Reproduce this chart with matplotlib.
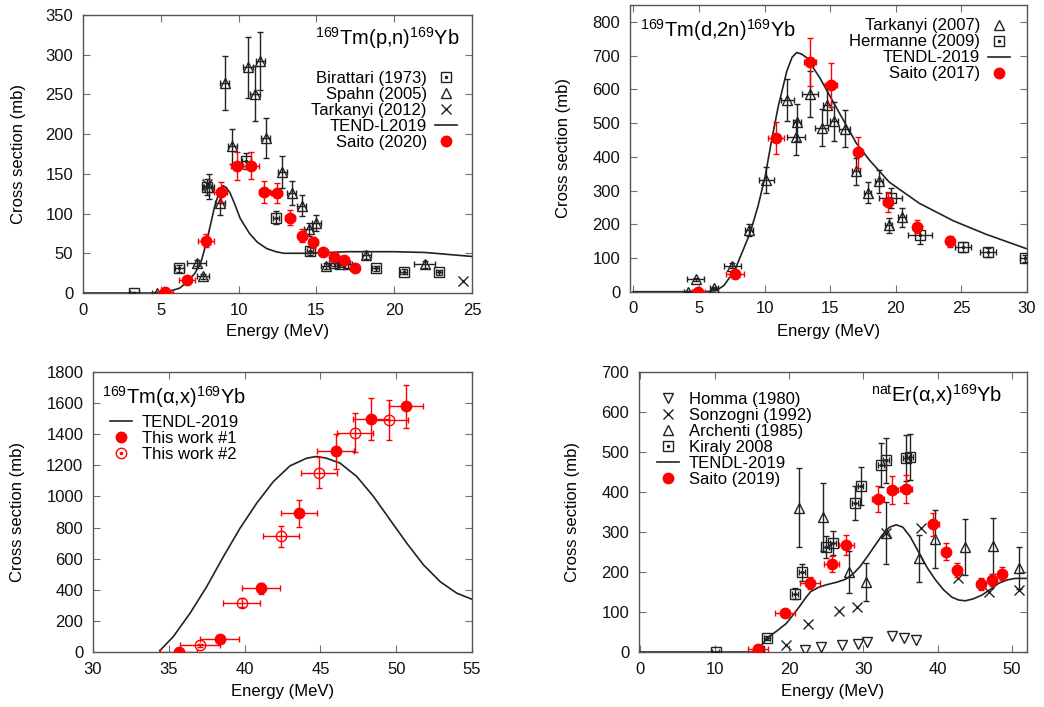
import numpy as np
import matplotlib
matplotlib.use("Agg")
import matplotlib.pyplot as plt
from matplotlib.lines import Line2D

plt.rcParams['font.family'] = ['Liberation Sans', 'DejaVu Sans']
plt.rcParams['mathtext.fontset'] = 'custom'
plt.rcParams['mathtext.rm'] = 'Liberation Sans'
plt.rcParams['mathtext.default'] = 'regular'

# ---- panel 1: 169Tm(p,n)169Yb ----
p_bir_e = [3.3, 6.2, 8.0, 10.5, 12.4, 14.6, 16.5, 18.8, 20.6, 22.9]
p_bir_s = [0, 31, 133, 166, 95, 53, 36, 31, 27, 26]
p_bir_ye = [1, 4, 10, 10, 8, 5, 3, 3, 3, 3]
p_bir_xe = [0.3, 0.3, 0.3, 0.3, 0.2, 0.2, 0.2, 0.2, 0.2, 0.2]

p_spa_e = [4.75, 7.3, 7.7, 8.1, 8.8, 9.1, 9.6, 10.6, 11.05, 11.4, 11.75, 12.8, 13.4,
           14.05, 14.5, 15.0, 15.6, 16.1, 17.0, 18.2, 21.95]
p_spa_s = [0, 38, 21, 134, 113, 264, 185, 284, 251, 292, 195, 152, 126,
           110, 80, 88, 34, 38, 36, 48, 36]
p_spa_ye = [1, 4, 3, 16, 15, 34, 22, 38, 35, 37, 25, 20, 15, 13, 8, 10, 4, 4, 4, 5, 4]
p_spa_xe = [0.3, 0.6, 0.4, 0.3, 0.3, 0.3, 0.3, 0.3, 0.3, 0.3, 0.3, 0.3, 0.3,
            0.3, 0.3, 0.3, 0.3, 0.3, 0.3, 0.3, 0.7]

p_tar_e = [8.0, 16.6, 24.4]
p_tar_s = [137, 37, 15]

p_sai_e = [5.3, 6.7, 7.9, 8.85, 9.9, 10.8, 11.65, 12.45, 13.3, 14.1, 14.8, 15.45, 16.15, 16.8, 17.45]
p_sai_s = [1, 16, 66, 127, 160, 160, 127, 126, 95, 72, 64, 51, 45, 42, 31]
p_sai_ye = [0.5, 2, 8, 13, 18, 17, 14, 13, 10, 8, 7, 5, 4.5, 4, 3]
p_sai_xe = [0.5, 0.5, 0.5, 0.4, 0.4, 0.5, 0.35, 0.35, 0.3, 0.3, 0.3, 0.3, 0.3, 0.3, 0.3]

p_ten_e = [0, 3, 4.5, 5.5, 6.2, 6.7, 7.2, 7.6, 7.95, 8.45, 8.75, 9.0, 9.2, 9.45, 9.75,
           10.1, 10.7, 11.2, 11.8, 12.4, 12.9, 14.6, 17, 20, 22, 25]
p_ten_s = [0, 0, 0, 2, 6, 14, 25, 40, 65, 108, 127, 135, 133, 126, 112,
           94, 75, 64, 56, 52, 50, 50, 52, 52, 51, 46]

# ---- panel 2: 169Tm(d,2n)169Yb ----
d_tar_e = [4.2, 4.75, 6.15, 7.55, 8.85, 10.15, 11.75, 12.4, 12.45, 13.45, 14.35, 14.75,
           15.3, 16.1, 17.0, 17.85, 18.7, 19.45, 20.5]
d_tar_s = [0, 37, 10, 77, 183, 332, 568, 458, 502, 585, 486, 555, 505, 483, 357, 294, 327, 197, 221]
d_tar_ye = [2, 5, 3, 8, 17, 38, 62, 52, 55, 68, 55, 62, 58, 55, 40, 30, 35, 22, 28]
d_tar_xe = [0.3, 0.65, 0.3, 0.65, 0.3, 0.55, 0.5, 0.7, 0.3, 0.6, 0.5, 0.3, 0.3, 0.4,
            0.3, 0.3, 0.3, 0.3, 0.3]

d_her_e = [19.6, 21.85, 25.1, 27.0, 29.85]
d_her_s = [278, 168, 132, 117, 99]
d_her_ye = [30, 28, 15, 14, 10]
d_her_xe = [0.9, 0.9, 0.6, 0.6, 0.4]

d_sai_e = [4.95, 7.75, 10.85, 13.45, 15.05, 17.15, 19.4, 21.6, 24.1]
d_sai_s = [0, 52, 455, 681, 614, 413, 265, 193, 149]
d_sai_ye = [2, 6, 47, 70, 65, 45, 30, 20, 15]
d_sai_xe = [0.5, 0.7, 0.6, 0.45, 0.45, 0.35, 0.35, 0.3, 0.3]

d_ten_e = [0, 5.5, 6.3, 6.9, 7.75, 8.9, 9.5, 10.05, 10.55, 11.05, 11.7, 12.1, 12.45,
           12.8, 13.2, 14.2, 15.7, 17.0, 18.0, 19.5, 21.8, 24.4, 26.9, 30.0]
d_ten_s = [0, 0, 3, 18, 65, 174, 253, 342, 451, 550, 654, 695, 709,
           705, 694, 635, 530, 440, 390, 325, 262, 210, 170, 127]

# ---- panel 3: 169Tm(alpha,x)169Yb ----
a_w1_e = [35.65, 38.35, 41.1, 43.6, 46.0, 48.35, 50.65]
a_w1_s = [0, 82, 410, 891, 1289, 1499, 1579]
a_w1_xe = [1.2, 1.3, 1.25, 1.2, 1.2, 1.2, 1.1]
a_w1_ye = [5, 15, 35, 85, 115, 135, 140]

a_w2_e = [37.05, 39.8, 42.4, 44.9, 47.3, 49.55]
a_w2_s = [43, 316, 745, 1153, 1411, 1493]
a_w2_xe = [1.3, 1.2, 1.2, 1.2, 1.2, 1.2]
a_w2_ye = [8, 28, 68, 100, 125, 130]

a_ten_e = [34.4, 35.3, 36.4, 37.5, 38.6, 39.7, 40.8, 41.9, 43.0, 44.1, 44.75, 45.4,
           46.3, 47.4, 48.5, 49.6, 50.7, 51.8, 52.9, 54.0, 55.0]
a_ten_s = [8, 99, 249, 420, 613, 796, 957, 1096, 1197, 1246, 1257, 1246,
           1214, 1128, 1000, 849, 699, 560, 452, 378, 339]

# ---- panel 4: natEr(alpha,x)169Yb ----
e_hom_e = [22.1, 24.3, 27.1, 29.3, 30.5, 33.9, 35.5, 37.0]
e_hom_s = [6, 13, 18, 21, 24, 39, 36, 31]

e_son_e = [19.6, 22.6, 26.7, 29.1, 33.0, 37.8, 42.7, 46.9, 50.9]
e_son_s = [17, 69, 103, 113, 297, 311, 185, 149, 156]

e_arc_e = [21.3, 24.6, 28.0, 30.3, 33.0, 37.5, 39.6, 43.7, 47.4, 50.9]
e_arc_s = [361, 338, 200, 175, 298, 234, 282, 263, 265, 210]
e_arc_ye = [98, 85, 52, 47, 78, 58, 72, 70, 70, 52]

e_kir_e = [10.1, 16.0, 17.0, 20.75, 21.7, 24.95, 25.9, 28.85, 29.6, 32.3, 33.0, 35.7, 36.2]
e_kir_s = [0, 2, 34, 146, 199, 262, 272, 373, 415, 468, 479, 485, 487]
e_kir_ye = [1, 1, 5, 13, 22, 27, 30, 42, 47, 55, 57, 57, 57]
e_kir_xe = [0.5, 0.5, 0.4, 0.4, 0.4, 0.4, 0.4, 0.4, 0.4, 0.4, 0.4, 0.4, 0.4]

e_sai_e = [15.8, 19.45, 22.8, 25.7, 27.7, 32.0, 33.9, 35.7, 39.4, 41.05, 42.6, 45.8, 47.3, 48.7]
e_sai_s = [7, 98, 173, 220, 267, 382, 404, 408, 319, 251, 205, 169, 181, 196]
e_sai_ye = [3, 8, 15, 20, 25, 32, 35, 35, 28, 22, 18, 15, 15, 16]
e_sai_xe = [1.3, 1.4, 1.3, 1.0, 1.0, 0.8, 0.8, 0.8, 0.7, 0.5, 0.5, 0.5, 0.5, 0.5]

e_ten_e = [0, 15.0, 16.0, 17.1, 18.3, 19.6, 20.5, 21.4, 22.2, 22.9, 24.0, 25.0, 26.5,
           27.6, 28.6, 29.6, 30.5, 31.5, 32.5, 33.5, 34.4, 35.3, 36.3, 37.5, 38.6,
           39.7, 40.8, 41.9, 42.8, 43.7, 44.8, 46.0, 47.1, 48.2, 49.3, 50.4, 52.0]
e_ten_s = [0, 0, 10, 36, 52, 71, 92, 114, 135, 151, 162, 168, 175,
           182, 195, 215, 238, 265, 292, 312, 318, 312, 288, 247, 210,
           180, 155, 137, 130, 128, 133, 143, 157, 172, 180, 184, 184]

RED = '#ff0000'
BLK = '#222222'
FS = 12


def style_axes(ax, xlim, ylim, xticks, yticks):
    ax.set_xlim(*xlim)
    ax.set_ylim(*ylim)
    ax.set_xticks(xticks)
    ax.set_yticks(yticks)
    ax.tick_params(direction='in', top=True, right=True, length=5, width=0.8,
                   color='#707070', labelsize=FS, pad=7, labelcolor='#111111')
    for s in ax.spines.values():
        s.set_color('#555555')
        s.set_linewidth(1.0)
    ax.set_xlabel('Energy (MeV)', fontsize=FS)
    ax.set_ylabel('Cross section (mb)', fontsize=FS)


def points(ax, x, y, xe=None, ye=None, color=BLK, marker='o', ms=7, mfc='none', dot=False, z=3):
    if xe is not None or ye is not None:
        ax.errorbar(x, y, xerr=xe, yerr=ye, fmt='none', ecolor=color, elinewidth=1.0,
                    capsize=2.2, capthick=1.0, zorder=z)
    ax.plot(x, y, linestyle='none', marker=marker, ms=ms, mfc=mfc, mec=color, mew=1.0, zorder=z + 0.5)
    if dot:
        ax.plot(x, y, linestyle='none', marker='o', ms=1.5, mfc=color, mec=color, zorder=z + 0.6)


def h(marker, color=BLK, ms=7, mfc='none', dot=False):
    m = Line2D([], [], linestyle='none', marker=marker, ms=ms, mfc=mfc, mec=color, mew=1.0)
    if dot:
        d = Line2D([], [], linestyle='none', marker='o', ms=1.5, mfc=color, mec=color)
        return (m, d)
    return m


line_h = Line2D([], [], color=BLK, lw=1.2)
leg_kw = dict(frameon=False, fontsize=FS, labelspacing=0.06, handlelength=1.3,
              borderpad=0, borderaxespad=0)

fig = plt.figure(figsize=(10.44, 7.07), dpi=100)

# panel 1
ax1 = fig.add_axes([83 / 1044, 1 - 293 / 707, 389 / 1044, 278 / 707])
ax1.plot(p_ten_e, p_ten_s, color=BLK, lw=1.2, zorder=2)
points(ax1, p_bir_e, p_bir_s, p_bir_xe, p_bir_ye, marker='s', ms=7, dot=True)
points(ax1, p_spa_e, p_spa_s, p_spa_xe, p_spa_ye, marker='^', ms=6.5)
points(ax1, p_tar_e, p_tar_s, marker='x', ms=7)
points(ax1, p_sai_e, p_sai_s, p_sai_xe, p_sai_ye, color=RED, marker='o', ms=7.5, mfc=RED, z=4)
style_axes(ax1, (0, 25), (0, 350), range(0, 26, 5), range(0, 351, 50))
ax1.text(0.969, 0.917, r'$^{169}$Tm(p,n)$^{169}$Yb', transform=ax1.transAxes,
         ha='right', va='center', fontsize=14.5)
ax1.legend([h('s', dot=True), h('^', ms=6.5), h('x'), line_h, h('o', RED, 7.5, RED)],
           ['Birattari (1973)', 'Spahn (2005)', 'Tarkanyi (2012)', 'TEND-L2019', 'Saito (2020)'],
           loc='upper right', bbox_to_anchor=(0.961, 0.80), markerfirst=False,
           handletextpad=0.5, **leg_kw)
ax1.xaxis.set_label_coords(0.5, -0.112)
ax1.yaxis.set_label_coords(-0.147, 0.5)

# panel 2
ax2 = fig.add_axes([630 / 1044, 1 - 291.7 / 707, 397 / 1044, 286.7 / 707])
ax2.plot(d_ten_e, d_ten_s, color=BLK, lw=1.2, zorder=2)
points(ax2, d_tar_e, d_tar_s, d_tar_xe, d_tar_ye, marker='^', ms=6.5)
points(ax2, d_her_e, d_her_s, d_her_xe, d_her_ye, marker='s', ms=7, dot=True)
points(ax2, d_sai_e, d_sai_s, d_sai_xe, d_sai_ye, color=RED, marker='o', ms=7.5, mfc=RED, z=4)
style_axes(ax2, (-0.25, 30), (0, 850), range(0, 31, 5), range(0, 801, 100))
ax2.text(0.025, 0.913, r'$^{169}$Tm(d,2n)$^{169}$Yb', transform=ax2.transAxes,
         ha='left', va='center', fontsize=14.5)
ax2.legend([h('^', ms=6.5), h('s', dot=True), line_h, h('o', RED, 7.5, RED)],
           ['Tarkanyi (2007)', 'Hermanne (2009)', 'TENDL-2019', 'Saito (2017)'],
           loc='upper right', bbox_to_anchor=(0.957, 0.953), markerfirst=False,
           handletextpad=0.5, **leg_kw)
ax2.xaxis.set_label_coords(0.5, -0.112)
ax2.yaxis.set_label_coords(-0.149, 0.5)

# panel 3
ax3 = fig.add_axes([93 / 1044, 1 - 652 / 707, 379 / 1044, 280 / 707])
ax3.plot(a_ten_e, a_ten_s, color=BLK, lw=1.2, zorder=2)
points(ax3, a_w1_e, a_w1_s, a_w1_xe, a_w1_ye, color=RED, marker='o', ms=7.5, mfc=RED, z=4)
points(ax3, a_w2_e, a_w2_s, a_w2_xe, a_w2_ye, color=RED, marker='o', ms=7.5, mfc='none', z=4)
style_axes(ax3, (30, 55), (0, 1800), range(30, 56, 5), range(0, 1801, 200))
ax3.text(0.024, 0.91, r'$^{169}$Tm(α,x)$^{169}$Yb', transform=ax3.transAxes,
         ha='left', va='center', fontsize=14.5)
ax3.legend([line_h, h('o', RED, 7.5, RED), h('o', RED, 7.5, 'none', dot=True)],
           ['TENDL-2019', 'This work #1', 'This work #2'],
           loc='upper left', bbox_to_anchor=(0.045, 0.846), handletextpad=0.6, **leg_kw)
ax3.xaxis.set_label_coords(0.5, -0.114)
ax3.yaxis.set_label_coords(-0.18, 0.5)

# panel 4
ax4 = fig.add_axes([639 / 1044, 1 - 652 / 707, 388 / 1044, 280 / 707])
ax4.plot(e_ten_e, e_ten_s, color=BLK, lw=1.2, zorder=2)
points(ax4, e_hom_e, e_hom_s, marker='v', ms=6.5)
points(ax4, e_son_e, e_son_s, marker='x', ms=7)
points(ax4, e_arc_e, e_arc_s, None, e_arc_ye, marker='^', ms=7)
points(ax4, e_kir_e, e_kir_s, e_kir_xe, e_kir_ye, marker='s', ms=7, dot=True)
points(ax4, e_sai_e, e_sai_s, e_sai_xe, e_sai_ye, color=RED, marker='o', ms=7.5, mfc=RED, z=4)
style_axes(ax4, (-0.2, 52), (0, 700), range(0, 51, 10), range(0, 701, 100))
ax4.text(0.936, 0.918, r'$^{nat}$Er(α,x)$^{169}$Yb', transform=ax4.transAxes,
         ha='right', va='center', fontsize=14.5)
ax4.legend([h('v', ms=6.5), h('x'), h('^'), h('s', dot=True), line_h, h('o', RED, 7.5, RED)],
           ['Homma (1980)', 'Sonzogni (1992)', 'Archenti (1985)', 'Kiraly 2008', 'TENDL-2019',
            'Saito (2019)'],
           loc='upper left', bbox_to_anchor=(0.046, 0.930), handletextpad=0.6, **leg_kw)
ax4.xaxis.set_label_coords(0.5, -0.114)
ax4.yaxis.set_label_coords(-0.152, 0.5)

fig.savefig('out.png', dpi=100)
